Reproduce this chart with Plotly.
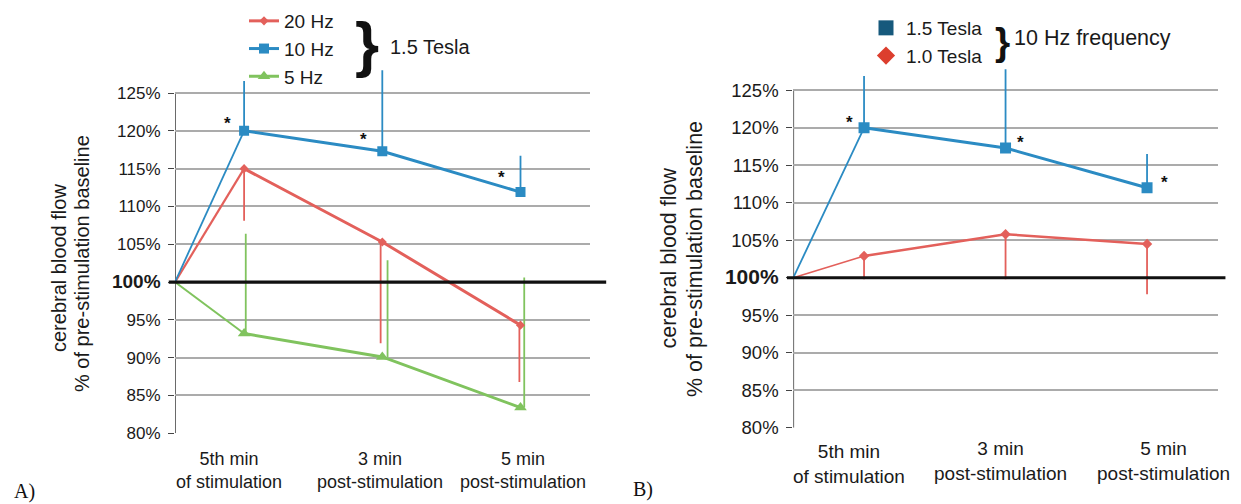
import plotly.graph_objects as go

# ---- data -------------------------------------------------------------
categories = ["5th min<br>of stimulation", "3 min<br>post-stimulation", "5 min<br>post-stimulation"]
cat_pos = [0.5, 1.5, 2.5]          # category centres on a 0..3 axis
baseline = 100                     # pre-stimulation level (%)

# Panel A: 1.5 Tesla, three stimulation frequencies
hz20 = [115.0, 105.3, 94.3]
hz20_err_down = [6.9, 13.4, 7.5]
hz10 = [120.0, 117.3, 111.9]
hz10_err_up = [6.6, 10.7, 4.8]
hz5 = [93.2, 90.1, 83.4]
hz5_err_up = [13.2, 12.8, 17.2]

# Panel B: 10 Hz, two field strengths
t15 = [120.0, 117.3, 112.0]
t15_err_up = [6.9, 10.5, 4.5]
t10 = [102.9, 105.8, 104.5]
t10_err_down = [3.1, 6.0, 6.7]

ytick_vals = [80, 85, 90, 95, 100, 105, 110, 115, 120, 125]

# ---- styling ----------------------------------------------------------
W, H = 1241, 504
FONT = "Liberation Sans, Arial, sans-serif"
SERIF = "Liberation Serif, Times New Roman, serif"
RED, BLUE, GREEN = "#e3605b", "#2b8bc3", "#80c35e"
GRID = "#ababab"
AXIS = "#444444"
TXT = "#1a1a1a"


def px_x(p):
    return p / W


def px_y(p):
    return 1 - p / H


fig = go.Figure()


def add_series(ax, vals, color, symbol, msize, width, first_width,
               up=None, down=None, nudge=None, name=None, rank=1000,
               legend="legend", showlegend=False):
    xa, ya = ("x", "y") if ax == 1 else ("x2", "y2")
    zeros = [0] * len(vals)
    nudge = nudge or zeros
    # one-sided error bars, slightly nudged so neighbouring bars stay apart
    fig.add_trace(go.Scatter(
        x=[c + n for c, n in zip(cat_pos, nudge)], y=vals, mode="markers",
        marker=dict(size=1, color="rgba(0,0,0,0)"),
        error_y=dict(type="data", symmetric=False,
                     array=up or zeros, arrayminus=down or zeros,
                     color=color, thickness=1.8, width=0),
        showlegend=False, hoverinfo="skip", xaxis=xa, yaxis=ya))
    # thin segment rising from the baseline
    fig.add_trace(go.Scatter(
        x=[0, cat_pos[0]], y=[baseline, vals[0]], mode="lines",
        line=dict(color=color, width=first_width),
        showlegend=False, hoverinfo="skip", xaxis=xa, yaxis=ya))
    fig.add_trace(go.Scatter(
        x=cat_pos, y=vals, mode="lines+markers", name=name,
        line=dict(color=color, width=width),
        marker=dict(symbol=symbol, size=msize, color=color),
        legend=legend, legendrank=rank, showlegend=showlegend,
        xaxis=xa, yaxis=ya))


# Panel A
add_series(1, hz5, GREEN, "triangle-up", 11, 3, 2, up=hz5_err_up,
           nudge=[0.012, 0.038, 0.027], name="5 Hz", rank=3, showlegend=True)
add_series(1, hz20, RED, "diamond", 7, 3, 2.2, down=hz20_err_down,
           nudge=[0, -0.012, -0.008], name="20 Hz", rank=1, showlegend=True)
add_series(1, hz10, BLUE, "square", 10, 3, 1.8, up=hz10_err_up,
           name="10 Hz", rank=2, showlegend=True)

# Panel B
add_series(2, t10, RED, "diamond", 8, 2.5, 1.6, down=t10_err_down)
add_series(2, t15, BLUE, "square", 11, 3, 1.8, up=t15_err_up)

# Panel B key uses its own solid glyphs
fig.add_trace(go.Scatter(x=[None], y=[None], mode="markers", name="1.5 Tesla",
                         marker=dict(symbol="square", size=15, color="#16597c"),
                         legend="legend2", legendrank=1, xaxis="x2", yaxis="y2"))
fig.add_trace(go.Scatter(x=[None], y=[None], mode="markers", name="1.0 Tesla",
                         marker=dict(symbol="diamond", size=14, color="#dc3e2e"),
                         legend="legend2", legendrank=2, xaxis="x2", yaxis="y2"))


# ---- axes -------------------------------------------------------------
def ticktext(size_bold):
    out = []
    for v in ytick_vals:
        if v == baseline:
            out.append(f"<span style='font-size:{size_bold}px'><b>{v}%</b></span>")
        else:
            out.append(f"{v}%")
    return out


panels = {
    1: dict(xd=[px_x(175), px_x(589.6)], yd=[px_y(433.3), px_y(55.2)], tick=17,
            bold=19, ext=1.04),
    2: dict(xd=[px_x(793.3), px_x(1217.8)], yd=[px_y(427.7), px_y(52.8)], tick=18.5,
            bold=21, ext=1.018),
}
shapes = []
for k, p in panels.items():
    sfx = "" if k == 1 else "2"
    fig.update_layout(**{
        f"xaxis{sfx}": dict(domain=p["xd"], range=[0, 3], showgrid=False,
                           zeroline=False, showline=False, showticklabels=False,
                           ticks="", fixedrange=True, automargin=False,
                           anchor="y" + sfx),
        f"yaxis{sfx}": dict(domain=p["yd"], range=[80, 130], tickvals=ytick_vals,
                           ticktext=ticktext(p["bold"]), showgrid=True,
                           gridcolor=GRID, gridwidth=1.5, zeroline=False,
                           showline=False, ticks="outside", ticklen=6,
                           tickcolor=AXIS, tickwidth=1.3,
                           tickfont=dict(size=p["tick"], color=TXT),
                           ticklabelstandoff=4, fixedrange=True,
                           automargin=False, anchor="x" + sfx),
    })
    xr, yr = "x" + sfx, "y" + sfx
    # vertical axis line
    shapes.append(dict(type="line", xref=xr, yref=yr, x0=0, x1=0, y0=80, y1=125,
                       line=dict(color=AXIS, width=1.6), layer="below"))
    # heavy reference line at the 100 % baseline, drawn over the grid
    shapes.append(dict(type="line", xref=xr + " domain", yref=yr, x0=-0.015,
                       x1=p["ext"], y0=baseline, y1=baseline,
                       line=dict(color="#111111", width=3.2), layer="above"))


# ---- annotations ------------------------------------------------------
def label(text, x, y, size, xanchor="center", yanchor="middle", **kw):
    d = dict(text=text, x=x, y=y, xref=kw.pop("xref", "paper"),
             yref=kw.pop("yref", "paper"), xanchor=xanchor, yanchor=yanchor,
             showarrow=False, font=dict(size=size, color=kw.pop("color", TXT),
                                        family=kw.pop("family", FONT)))
    d.update(kw)
    return d


ann = []

# y-axis titles (two lines each)
for (x1, y1, x2, y2, fs) in [(59, 268, 82, 264, 20), (668, 258.5, 695, 259, 21.5)]:
    ann.append(label("cerebral blood flow", px_x(x1), px_y(y1), fs, textangle=-90))
    ann.append(label("% of pre-stimulation baseline", px_x(x2), px_y(y2), fs,
                     textangle=-90))

# category labels under each panel
cat_shift = {1: [-15, -2, 2], 2: [-15, -5, 16]}
cat_y = {1: [470.5, 470.5, 470.5], 2: [463.5, 460.5, 460.5]}
cat_font = {1: 18, 2: 19}
for k in (1, 2):
    xr = "x" if k == 1 else "x2"
    for i, lab in enumerate(categories):
        ann.append(label(lab, cat_pos[i], px_y(cat_y[k][i]), cat_font[k], xref=xr,
                         xshift=cat_shift[k][i], align="center"))

# significance stars next to the 1.5 Tesla / 10 Hz points
star_off = {1: [(-17, 11), (-18.5, 15.7), (-19, 19)],
            2: [(-15, 9.4), (15, 9.4), (17, 9.4)]}
star_vals = {1: hz10, 2: t15}
for k in (1, 2):
    xr, yr = ("x", "y") if k == 1 else ("x2", "y2")
    for i, (dx, dy) in enumerate(star_off[k]):
        ann.append(label("<b>*</b>", cat_pos[i], star_vals[k][i], 17, xref=xr,
                         yref=yr, xshift=dx, yshift=dy - 4, color="#111111"))

# key braces, group captions and panel letters
ann += [
    label("<b>}</b>", px_x(367), px_y(43), 62, color="#111111"),
    label("1.5 Tesla", px_x(388), px_y(47), 20, xanchor="left"),
    label("<b>}</b>", px_x(1002), px_y(41), 39, color="#111111"),
    label("10 Hz frequency", px_x(1012), px_y(38), 21.5, xanchor="left"),
    label("A)", px_x(12), px_y(491), 20, xanchor="left", family=SERIF,
          color="#111111"),
    label("B)", px_x(631), px_y(489), 20, xanchor="left", family=SERIF,
          color="#111111"),
]

fig.update_layout(
    width=W, height=H, margin=dict(l=0, r=0, t=0, b=0, autoexpand=False),
    paper_bgcolor="white", plot_bgcolor="rgba(0,0,0,0)",
    font=dict(family=FONT, color=TXT),
    annotations=ann, shapes=shapes,
    legend=dict(x=px_x(244), y=px_y(2), xanchor="left", yanchor="top",
                bgcolor="rgba(0,0,0,0)", font=dict(size=19),
                traceorder="normal", itemclick=False, itemdoubleclick=False),
    legend2=dict(x=px_x(866), y=px_y(9), xanchor="left", yanchor="top",
                 bgcolor="rgba(0,0,0,0)", font=dict(size=19),
                 traceorder="normal", itemclick=False, itemdoubleclick=False),
    showlegend=True,
)

fig.write_html("out.html")
